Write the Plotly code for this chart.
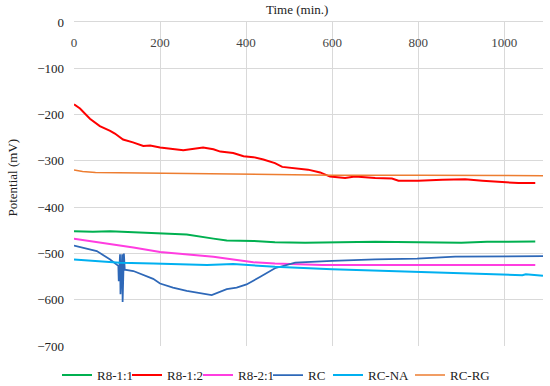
import plotly.graph_objects as go

# ---- data ----
t_r811 = [0, 44, 84, 138, 184, 262, 324, 355, 417, 467, 537, 600, 700, 800, 900, 960, 1000, 1072]
v_r811 = [-452, -453, -452, -454, -455, -459, -468, -472, -473, -476, -477, -476, -475, -476, -477, -475, -475, -474]

t_r812 = [0, 14, 37, 60, 84, 95, 114, 137, 161, 177, 200, 230, 254, 300, 324, 340, 370, 394, 417, 440,
          467, 484, 514, 544, 572, 595, 630, 653, 700, 739, 754, 800, 856, 909, 949, 995, 1033, 1072]
v_r812 = [-178, -187, -209, -225, -235, -241, -254, -260, -268, -267, -271, -275, -277, -271, -275, -280, -283, -290, -292, -297,
          -305, -313, -316, -319, -325, -334, -337, -334, -337, -338, -343, -343, -341, -340, -343, -345, -348, -348]

t_r821 = [0, 44, 107, 138, 200, 262, 324, 370, 417, 467, 577, 700, 850, 1000, 1072]
v_r821 = [-468, -474, -484, -487, -497, -502, -507, -513, -519, -522, -525, -525, -525, -525, -525]

t_rc = [0, 53, 84, 103, 104, 107, 108, 110, 112, 113, 115, 116, 118, 138, 184, 200, 230, 262, 320, 355, 378,
        401, 432, 467, 514, 600, 700, 797, 886, 1010, 1090]
v_rc = [-483, -495, -513, -527, -560, -502, -588, -530, -502, -605, -530, -500, -535, -538, -555, -565, -574, -581, -590, -577, -574,
        -567, -551, -532, -520, -516, -513, -511, -507, -507, -506]

t_rcna = [0, 107, 184, 309, 370, 467, 600, 797, 933, 1042, 1050, 1090]
v_rcna = [-513, -520, -522, -525, -523, -529, -534, -540, -545, -547, -545, -548]

t_rcrg = [0, 20, 50, 150, 250, 300, 400, 500, 600, 800, 1000, 1090]
v_rcrg = [-320, -323, -325, -326, -327, -329, -329, -330, -331, -331, -332, -332]

names = ["R8-1:1", "R8-1:2", "R8-2:1", "RC", "RC-NA", "RC-RG"]
colors = ["#00B050", "#FF0000", "#FF3DE0", "#2E68B8", "#00B0F0", "#ED7D31"]
series = [(t_r811, v_r811), (t_r812, v_r812), (t_r821, v_r821), (t_rc, v_rc), (t_rcna, v_rcna), (t_rcrg, v_rcrg)]

x_ticks = [0, 200, 400, 600, 800, 1000]
y_ticks = [0, -100, -200, -300, -400, -500, -600, -700]

# ---- styling / layout (not data) ----
FONT = "Liberation Serif"
TXT = "#222222"
widths = [2, 2, 2, 1.75, 2, 1.5]
L, R, T, B, W, H = 74, 7, 22, 40, 550, 386
legend_left_px = [57, 127, 198, 268, 328, 410]   # left edge of each legend entry, in page pixels
plot_w = W - L - R
plot_h = H - T - B

fig = go.Figure()
layout_legends = {}
for i, ((tx, vy), n, c, lw) in enumerate(zip(series, names, colors, widths)):
    key = "legend" if i == 0 else f"legend{i + 1}"
    fig.add_trace(go.Scatter(x=tx, y=vy, mode="lines", name=n, legend=key,
                             line=dict(color=c, width=lw)))
    layout_legends[key] = dict(
        orientation="h", x=(legend_left_px[i] - L) / plot_w, xanchor="left",
        y=-0.09, yanchor="middle", font=dict(size=13, family=FONT, color=TXT),
        bgcolor="rgba(0,0,0,0)", itemwidth=30,
    )

fig.update_layout(
    width=W, height=H,
    margin=dict(l=L, r=R, t=T, b=B, autoexpand=False),
    paper_bgcolor="white", plot_bgcolor="white",
    font=dict(family=FONT, size=13, color=TXT),
    showlegend=True,
    **layout_legends,
)
fig.update_xaxes(
    side="top", range=[0, 1090], tickvals=x_ticks,
    ticklabelposition="inside", ticklabeloverflow="allow", ticks="",
    ticklabelstandoff=16,
    showgrid=True, gridcolor="#D9D9D9", gridwidth=1,
    showline=True, linecolor="#D9D9D9", linewidth=1,
    zeroline=False, automargin=False,
)
fig.update_yaxes(
    range=[-700, 0], tickvals=y_ticks,
    ticks="", ticklabelstandoff=9,
    showgrid=True, gridcolor="#D9D9D9", gridwidth=1,
    zeroline=False, showline=False, automargin=False,
)
# axis titles
fig.add_annotation(text="Time (min.)", xref="paper", yref="paper",
                   x=(296.5 - L) / plot_w, y=1,
                   xanchor="center", yanchor="bottom", yshift=3, showarrow=False,
                   font=dict(size=13, family=FONT, color=TXT))
fig.add_annotation(text="Potential (mV)", xref="paper", yref="paper",
                   x=0, y=(H - B - 177.5) / plot_h, xshift=12 - L,
                   xanchor="center", yanchor="middle", textangle=-90, showarrow=False,
                   font=dict(size=13, family=FONT, color=TXT))

fig.write_html("out.html", config={"displayModeBar": False},
               post_script="document.body.style.margin='0';")
